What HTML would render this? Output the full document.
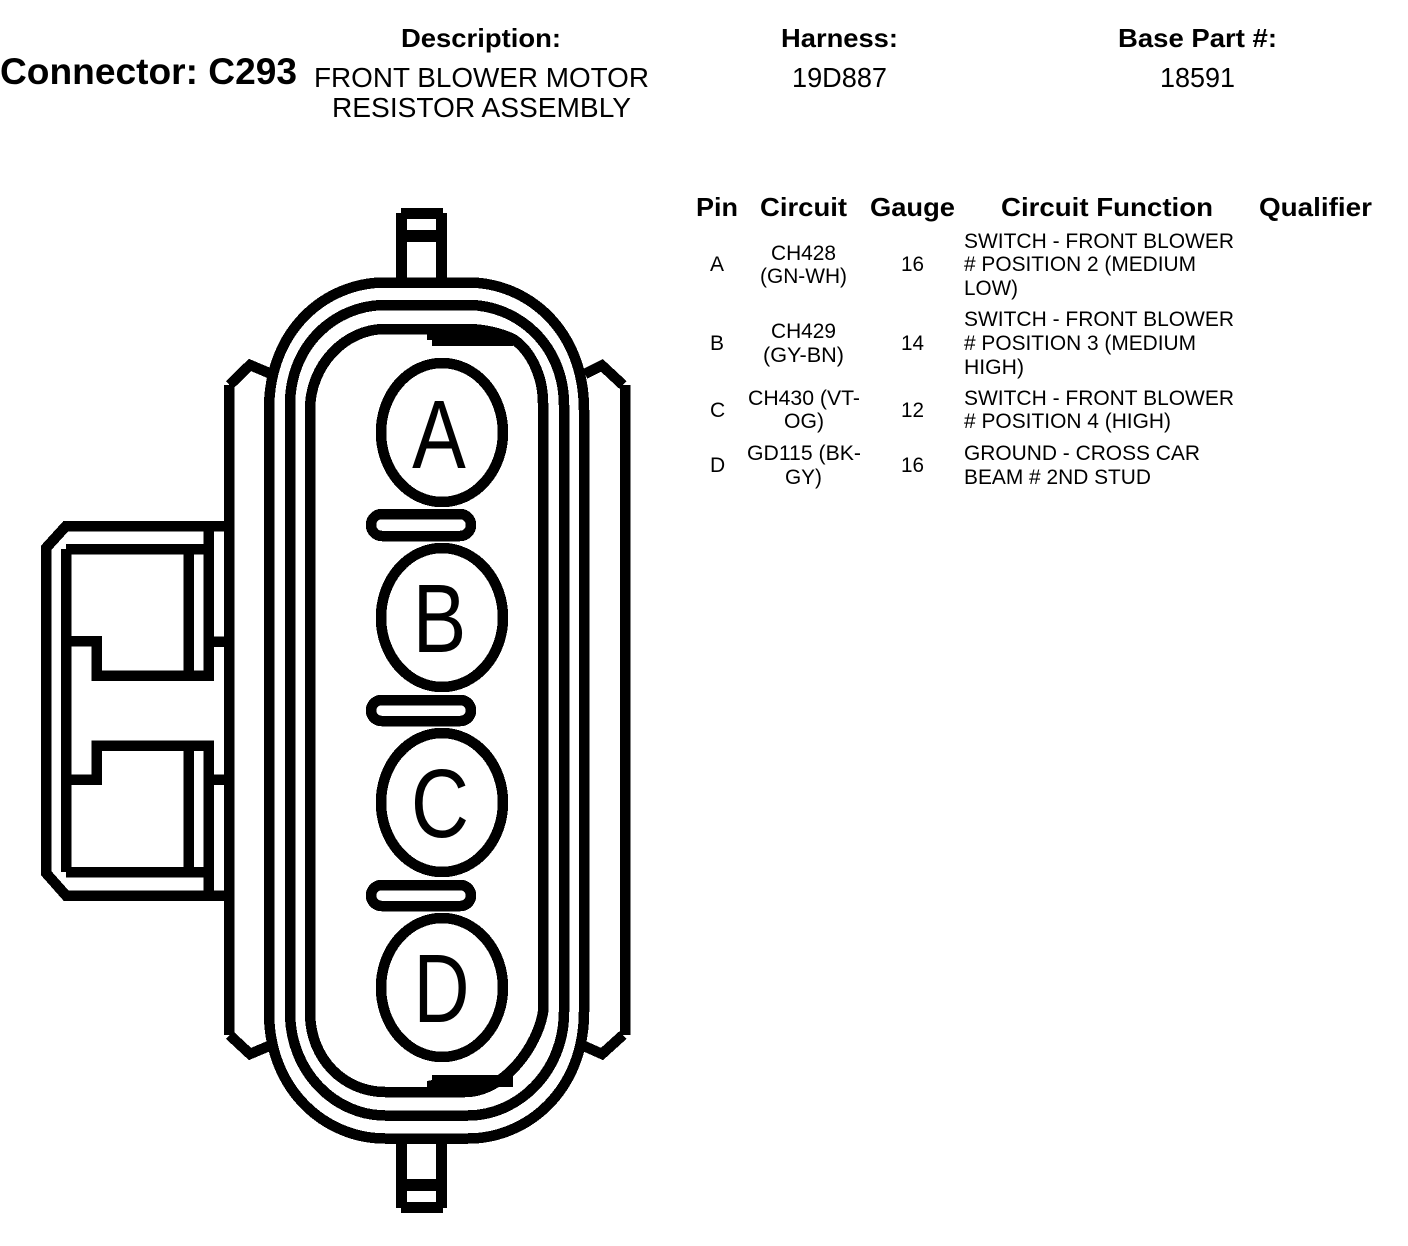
<!DOCTYPE html>
<html>
<head>
<meta charset="utf-8">
<style>
html,body{margin:0;padding:0;background:#fff;width:1408px;height:1246px;overflow:hidden}
svg{display:block;position:absolute;left:0;top:0}
text{font-family:"Liberation Sans",Arial,sans-serif;fill:#000}
.h{font-weight:bold;font-size:26px}
.v{font-size:28px}
.th{font-weight:bold;font-size:26px}
.t{font-size:21px}
.s{fill:none;stroke:#000;stroke-width:10.5;stroke-linejoin:miter;stroke-linecap:butt;shape-rendering:crispEdges}
rect,polygon{shape-rendering:crispEdges}
</style>
</head>
<body>
<svg width="1408" height="1246" viewBox="0 0 1408 1246" xmlns="http://www.w3.org/2000/svg">
<rect width="1408" height="1246" fill="#fff"/>
<!-- header -->
<text x="0" y="84" font-size="37" font-weight="bold" textLength="297" lengthAdjust="spacingAndGlyphs">Connector: C293</text>
<text class="h" x="401" y="47" textLength="160" lengthAdjust="spacingAndGlyphs">Description:</text>
<text class="h" x="781" y="47" textLength="117" lengthAdjust="spacingAndGlyphs">Harness:</text>
<text class="h" x="1118" y="47" textLength="159" lengthAdjust="spacingAndGlyphs">Base Part #:</text>
<text class="v" x="314" y="87" textLength="335" lengthAdjust="spacingAndGlyphs">FRONT BLOWER MOTOR</text>
<text class="v" x="332" y="117" textLength="299" lengthAdjust="spacingAndGlyphs">RESISTOR ASSEMBLY</text>
<text class="v" x="792" y="87" textLength="95" lengthAdjust="spacingAndGlyphs">19D887</text>
<text class="v" x="1160" y="87" textLength="75" lengthAdjust="spacingAndGlyphs">18591</text>
<!-- table head -->
<text class="th" x="696" y="216" textLength="42" lengthAdjust="spacingAndGlyphs">Pin</text>
<text class="th" x="760" y="216" textLength="87" lengthAdjust="spacingAndGlyphs">Circuit</text>
<text class="th" x="870" y="216" textLength="85" lengthAdjust="spacingAndGlyphs">Gauge</text>
<text class="th" x="1001" y="216" textLength="212" lengthAdjust="spacingAndGlyphs">Circuit Function</text>
<text class="th" x="1259" y="216" textLength="113" lengthAdjust="spacingAndGlyphs">Qualifier</text>
<!-- rows -->
<text class="t" x="710" y="271">A</text>
<text class="t" x="771" y="260" textLength="65" lengthAdjust="spacingAndGlyphs">CH428</text>
<text class="t" x="760" y="283" textLength="87" lengthAdjust="spacingAndGlyphs">(GN-WH)</text>
<text class="t" x="901" y="271" textLength="23" lengthAdjust="spacingAndGlyphs">16</text>
<text class="t" x="964" y="248" textLength="270" lengthAdjust="spacingAndGlyphs">SWITCH - FRONT BLOWER</text>
<text class="t" x="964" y="271" textLength="232" lengthAdjust="spacingAndGlyphs"># POSITION 2 (MEDIUM</text>
<text class="t" x="964" y="295" textLength="54" lengthAdjust="spacingAndGlyphs">LOW)</text>

<text class="t" x="710" y="350">B</text>
<text class="t" x="771" y="338" textLength="65" lengthAdjust="spacingAndGlyphs">CH429</text>
<text class="t" x="763" y="362" textLength="81" lengthAdjust="spacingAndGlyphs">(GY-BN)</text>
<text class="t" x="901" y="350" textLength="23" lengthAdjust="spacingAndGlyphs">14</text>
<text class="t" x="964" y="326" textLength="270" lengthAdjust="spacingAndGlyphs">SWITCH - FRONT BLOWER</text>
<text class="t" x="964" y="350" textLength="232" lengthAdjust="spacingAndGlyphs"># POSITION 3 (MEDIUM</text>
<text class="t" x="964" y="374" textLength="60" lengthAdjust="spacingAndGlyphs">HIGH)</text>

<text class="t" x="710" y="417">C</text>
<text class="t" x="748" y="405" textLength="112" lengthAdjust="spacingAndGlyphs">CH430 (VT-</text>
<text class="t" x="784" y="428" textLength="40" lengthAdjust="spacingAndGlyphs">OG)</text>
<text class="t" x="901" y="417" textLength="23" lengthAdjust="spacingAndGlyphs">12</text>
<text class="t" x="964" y="405" textLength="270" lengthAdjust="spacingAndGlyphs">SWITCH - FRONT BLOWER</text>
<text class="t" x="964" y="428" textLength="207" lengthAdjust="spacingAndGlyphs"># POSITION 4 (HIGH)</text>

<text class="t" x="710" y="472">D</text>
<text class="t" x="747" y="460" textLength="114" lengthAdjust="spacingAndGlyphs">GD115 (BK-</text>
<text class="t" x="785" y="484" textLength="37" lengthAdjust="spacingAndGlyphs">GY)</text>
<text class="t" x="901" y="472" textLength="23" lengthAdjust="spacingAndGlyphs">16</text>
<text class="t" x="964" y="460" textLength="236" lengthAdjust="spacingAndGlyphs">GROUND - CROSS CAR</text>
<text class="t" x="964" y="484" textLength="187" lengthAdjust="spacingAndGlyphs">BEAM # 2ND STUD</text>

<!-- tabs -->
<rect x="396" y="213" width="11" height="66"/>
<rect x="436" y="213" width="11" height="66"/>
<rect x="401" y="208" width="42" height="11"/>
<rect x="396" y="213" width="51" height="6"/>
<rect x="396" y="230" width="51" height="12"/>
<rect x="396" y="1139" width="11" height="69"/>
<rect x="436" y="1139" width="11" height="69"/>
<rect x="401" y="1202" width="42" height="11"/>
<rect x="396" y="1202" width="51" height="6"/>
<rect x="396" y="1179" width="51" height="12"/>

<!-- body rings -->
<path class="s" d="M269 410C269 330 325 282.5 385 282.5H468C528 282.5 584 330 584 410V1012C584 1090 528 1138.5 468 1138.5H385C325 1138.5 269 1090 269 1012Z"/>
<path class="s" d="M290 405C290 345 335 305 385 305H468C518 305 564 345 564 405V1012C564 1072 518 1115.5 468 1115.5H385C335 1115.5 290 1072 290 1012Z"/>
<path class="s" d="M310 410C310 365 345 329 385 329H465C485 329 500 333 513 339C530 350 543 375 543 403V1012C538 1045 505 1092 465 1092H385C345 1092 310 1060 310 1012Z"/>
<!-- inner blobs -->
<polygon points="427,334 513,334 513,346 432,346 432,340 427,340"/>
<polygon points="432,1075 513,1075 513,1087 480,1087 465,1093 427,1087 427,1081 432,1080"/>

<!-- side clips -->
<path class="s" d="M229 1035V385"/>
<path class="s" d="M229.5 385L250 365L269 373"/>
<path class="s" d="M229.5 1035L250 1054L269 1046"/>
<path class="s" d="M625 1035V385"/>
<path class="s" d="M623 385L602 365.5L585 374"/>
<path class="s" d="M623 1035L602 1054L584 1046"/>

<!-- left housing -->
<path class="s" d="M224 526H66L46 548V873L66 895.5H224"/>
<path class="s" d="M66 549V872"/>
<path class="s" d="M66 549H208.5V675.5H96.5V641H66"/>
<path class="s" d="M66 872H208.5V745.5H96.5V779.5H66"/>
<path class="s" d="M208.5 526V549M208.5 872V895"/>
<path class="s" d="M188.5 549V675M188.5 745V872"/>
<path class="s" d="M208 641.5H224M208 779.5H224"/>

<!-- cavities -->
<ellipse class="s" cx="442" cy="432.5" rx="61" ry="69.5"/>
<ellipse class="s" cx="442" cy="617.5" rx="61" ry="69.5"/>
<ellipse class="s" cx="442" cy="802.5" rx="61" ry="69.5"/>
<ellipse class="s" cx="442" cy="987.5" rx="61" ry="69.5"/>
<rect class="s" x="371" y="514" width="100" height="22" rx="11"/>
<rect class="s" x="371" y="700" width="100" height="21" rx="10.5"/>
<rect class="s" x="371" y="885" width="100" height="21" rx="10.5"/>
<g font-size="97" text-anchor="middle">
<text transform="translate(439 468) scale(.83 1)">A</text>
<text transform="translate(439.5 652) scale(.83 1)">B</text>
<text transform="translate(440 837) scale(.83 1)">C</text>
<text transform="translate(441.5 1022) scale(.8 1)">D</text>
</g>
</svg>
</body>
</html>
